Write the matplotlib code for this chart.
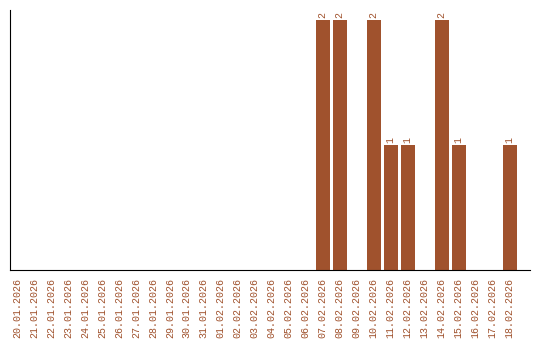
import matplotlib
matplotlib.use("Agg")
import matplotlib.pyplot as plt
import numpy as np

days = ["20.01.2026", "21.01.2026", "22.01.2026", "23.01.2026", "24.01.2026",
        "25.01.2026", "26.01.2026", "27.01.2026", "28.01.2026", "29.01.2026",
        "30.01.2026", "31.01.2026", "01.02.2026", "02.02.2026", "03.02.2026",
        "04.02.2026", "05.02.2026", "06.02.2026", "07.02.2026", "08.02.2026",
        "09.02.2026", "10.02.2026", "11.02.2026", "12.02.2026", "13.02.2026",
        "14.02.2026", "15.02.2026", "16.02.2026", "17.02.2026", "18.02.2026"]
counts = [0, 0, 0, 0, 0, 0, 0, 0, 0, 0,
          0, 0, 0, 0, 0, 0, 0, 0, 2, 2,
          0, 2, 1, 1, 0, 2, 1, 0, 0, 1]

color = "#a0522d"
plt.rcParams['font.family'] = ['Liberation Mono', 'DejaVu Sans Mono']

fig = plt.figure(figsize=(5.4, 3.4), dpi=100)
ax = fig.add_axes([10/540, 70/340, 520/540, 260/340])

x = np.arange(len(days))
ax.bar(x, counts, width=0.82, color=color)

for xi, c in zip(x, counts):
    if c > 0:
        ax.text(xi, c + 0.02, str(c), rotation=90, ha='center', va='bottom',
                fontsize=7.2, color=color)

ax.set_xlim(-0.41, 30.2)
ax.set_ylim(0, 2.08)
ax.set_xticks(x)
ax.set_xticklabels(days, rotation=90, fontsize=7.2, color=color)
ax.tick_params(axis='x', length=0, pad=6)
ax.set_yticks([])
ax.spines['top'].set_visible(False)
ax.spines['right'].set_visible(False)

plt.savefig("out.png", dpi=100)
